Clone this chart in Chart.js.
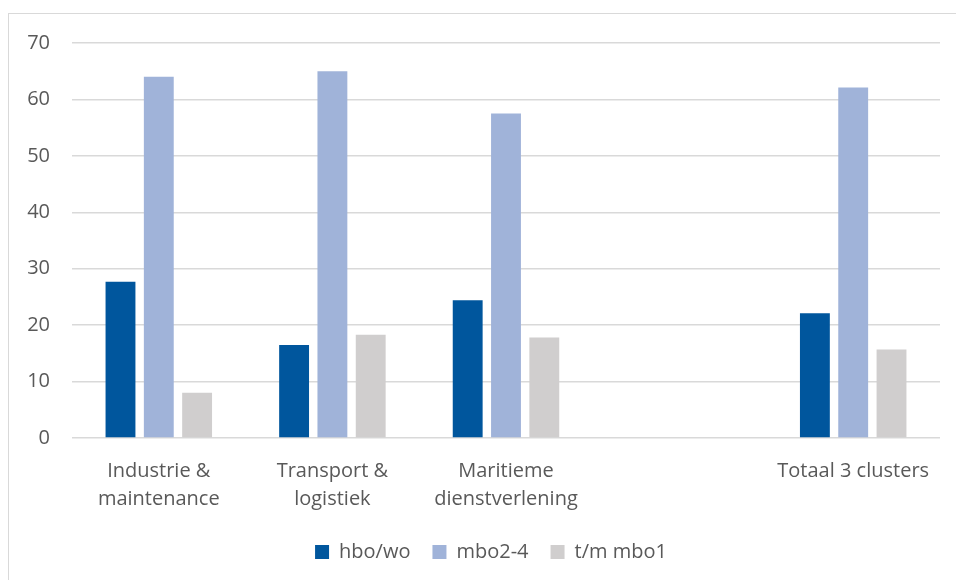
<!DOCTYPE html>
<html>
<head>
<meta charset="utf-8">
<script src="https://cdn.jsdelivr.net/npm/chart.js@4"></script>
<style>
    html, body { margin: 0; padding: 0; background: #fff; }
    #wrap { position: relative; width: 956px; height: 580px; overflow: hidden; }
    #frame {
        position: absolute; left: 8px; top: 13px; width: 1000px; height: 600px;
        border-left: 1px solid #d9d9d9; border-top: 1px solid #d9d9d9;
    }
    canvas { position: absolute; left: 0; top: 0; }
</style>
</head>
<body>
<div id="wrap">
    <div id="frame"></div>
    <canvas id="chart" width="956" height="580"></canvas>
</div>
<script>
const categories = [
    ['Industrie &', 'maintenance'],
    ['Transport &', 'logistiek'],
    ['Maritieme', 'dienstverlening'],
    '',
    'Totaal 3 clusters'
];
const hboWo = [27.7, 16.5, 24.4, null, 22.1];
const mbo24 = [64.0, 65.0, 57.5, null, 62.1];
const tmMbo1 = [8.0, 18.3, 17.8, null, 15.7];
const yTicks = [0, 10, 20, 30, 40, 50, 60, 70];

const textColor = '#595959';
const fontFamily = '"Open Sans", "Noto Sans", sans-serif';

const bar = (label, data, color) => ({
    label: label,
    data: data,
    backgroundColor: color,
    borderWidth: 0,
    categoryPercentage: 0.662,
    barPercentage: 0.78
});

// nudge the legend a bit to the right of the canvas centre
const legendShift = {
    id: 'legendShift',
    afterLayout: (chart) => {
        chart.legend.left += 21;
        chart.legend.right += 21;
    }
};

new Chart(document.getElementById('chart'), {
    type: 'bar',
    data: {
        labels: categories,
        datasets: [
            bar('hbo/wo', hboWo, '#00569d'),
            bar('mbo2-4', mbo24, '#a0b3d9'),
            bar('t/m mbo1', tmMbo1, '#d0cece')
        ]
    },
    plugins: [legendShift],
    options: {
        responsive: false,
        animation: false,
        layout: { padding: { top: 43, right: 16, bottom: 8, left: 0 } },
        plugins: {
            tooltip: { enabled: false },
            legend: {
                position: 'bottom',
                labels: {
                    color: textColor,
                    font: { family: fontFamily, size: 20 },
                    boxWidth: 14,
                    boxHeight: 14,
                    padding: 22
                }
            }
        },
        scales: {
            x: {
                grid: { display: false },
                border: { display: false },
                ticks: {
                    color: textColor,
                    font: { family: fontFamily, size: 20, lineHeight: 1.4 },
                    maxRotation: 0,
                    padding: 11
                },
                afterFit: (scale) => { scale.height = 82; }
            },
            y: {
                min: 0,
                max: 70,
                afterBuildTicks: (scale) => { scale.ticks = yTicks.map(v => ({ value: v })); },
                grid: { color: '#d9d9d9', lineWidth: 1.5, drawTicks: false },
                border: { display: false },
                ticks: {
                    color: textColor,
                    font: { family: fontFamily, size: 20 },
                    padding: 22
                },
                afterFit: (scale) => { scale.width = 72; }
            }
        }
    }
});
</script>
</body>
</html>
